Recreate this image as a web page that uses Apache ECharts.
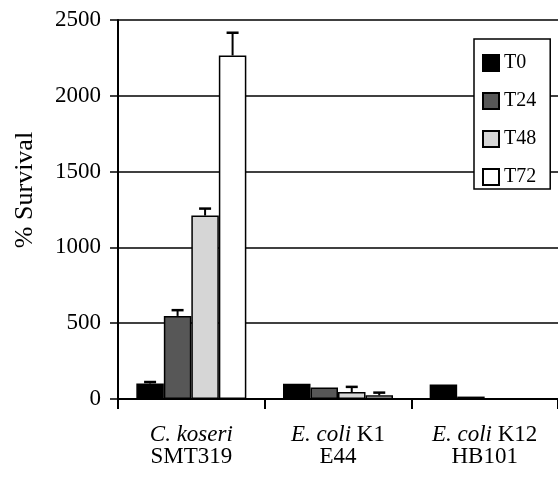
<!DOCTYPE html>
<html>
<head>
<meta charset="utf-8">
<script src="https://cdn.jsdelivr.net/npm/echarts@6/dist/echarts.min.js"></script>
<style>
html,body{margin:0;padding:0;background:#fff;}
#chart{width:558px;height:486px;}
</style>
</head>
<body>
<div id="chart"></div>
<script>
var categoryItalic = ['C. koseri', 'E. coli', 'E. coli'];
var categoryStrain = ['', 'K1', 'K12'];
var categoryId = ['SMT319', 'E44', 'HB101'];
var seriesNames = ['T0', 'T24', 'T48', 'T72'];
var t0Values = [102, 100, 95];
var t24Values = [548, 76, 16];
var t48Values = [1210, 46, 4];
var t72Values = [2266, 24, 3];
var t0Errors = [10, 0, 0];
var t24Errors = [38, 0, 0];
var t48Errors = [46, 34, 0];
var t72Errors = [150, 18, 0];
var yTicks = [0, 500, 1000, 1500, 2000, 2500];

var allValues = [t0Values, t24Values, t48Values, t72Values];
var allErrors = [t0Errors, t24Errors, t48Errors, t72Errors];
var fills = ['#000000', '#575757', '#d6d6d6', '#ffffff'];
var FONT = 'Liberation Serif';

var categories = categoryId.map(function (id, i) { return String(i); });

var errData = [];
for (var s = 0; s < 4; s++) {
  for (var c = 0; c < 3; c++) {
    if (allErrors[s][c] > 0) errData.push([c, allValues[s][c], allErrors[s][c], s]);
  }
}

var series = seriesNames.map(function (n, s) {
  return {
    name: n,
    type: 'bar',
    data: allValues[s],
    barGap: '0%',
    barCategoryGap: '25%',
    itemStyle: { color: fills[s], borderColor: '#000', borderWidth: 1.5 },
    emphasis: { disabled: true }
  };
});

series.push({
  type: 'custom',
  silent: true,
  z: 5,
  data: errData,
  renderItem: function (params, api) {
    var cat = api.value(0), val = api.value(1), err = api.value(2), idx = api.value(3);
    var base = api.coord([cat, val]);
    var top = api.coord([cat, val + err]);
    var band = api.size([1, 0])[0];
    var bw = band * 0.75 / 4;
    var x = base[0] + (idx - 1.5) * bw;
    return {
      type: 'group',
      children: [
        { type: 'line', shape: { x1: x, y1: base[1], x2: x, y2: top[1] }, style: { stroke: '#000', lineWidth: 2 } },
        { type: 'line', shape: { x1: x - 6, y1: top[1], x2: x + 6, y2: top[1] }, style: { stroke: '#000', lineWidth: 2.5 } }
      ]
    };
  }
});

var chart = echarts.init(document.getElementById('chart'));
chart.setOption({
  animation: false,
  backgroundColor: '#fff',
  grid: { left: 118, top: 20, width: 447, bottom: 87 },
  legend: {
    data: seriesNames,
    orient: 'vertical',
    left: 474,
    top: 39,
    padding: [14, 14, 2, 8],
    itemGap: 18,
    itemWidth: 16,
    itemHeight: 16,
    icon: 'rect',
    backgroundColor: '#fff',
    borderColor: '#000',
    borderWidth: 1.5,
    textStyle: { fontFamily: FONT, fontSize: 20, color: '#000', lineHeight: 18 },
    selectedMode: false,
    z: 10
  },
  xAxis: {
    type: 'category',
    data: categories,
    axisLine: { lineStyle: { color: '#000', width: 2 } },
    axisTick: { show: true, length: 10, lineStyle: { color: '#000', width: 2 } },
    axisLabel: {
      margin: 25,
      interval: 0,
      formatter: function (v) {
        var i = +v;
        var l1 = '{i|' + categoryItalic[i] + '}' + (categoryStrain[i] ? '{n| ' + categoryStrain[i] + '}' : '');
        return l1 + '\n{n|' + categoryId[i] + '}';
      },
      rich: {
        i: { fontFamily: FONT, fontStyle: 'italic', fontSize: 23, color: '#000', lineHeight: 22 },
        n: { fontFamily: FONT, fontSize: 23, color: '#000', lineHeight: 22 }
      }
    }
  },
  yAxis: {
    type: 'value',
    min: yTicks[0],
    max: yTicks[yTicks.length - 1],
    interval: 500,
    axisLine: { show: true, lineStyle: { color: '#000', width: 2 } },
    axisTick: { show: true, length: 8, lineStyle: { color: '#000', width: 1.5 } },
    axisLabel: {
      margin: 17, fontFamily: FONT, fontSize: 23, color: '#000',
      formatter: function (v) { return String(v); }
    },
    splitLine: { show: true, lineStyle: { color: '#000', width: 1.5 } }
  },
  graphic: [{
    type: 'text',
    x: 25,
    y: 190,
    rotation: Math.PI / 2,
    style: {
      text: '% Survival',
      fontFamily: FONT,
      fontSize: 26,
      fill: '#000',
      align: 'center',
      verticalAlign: 'middle'
    }
  }],
  series: series
});
</script>
</body>
</html>
